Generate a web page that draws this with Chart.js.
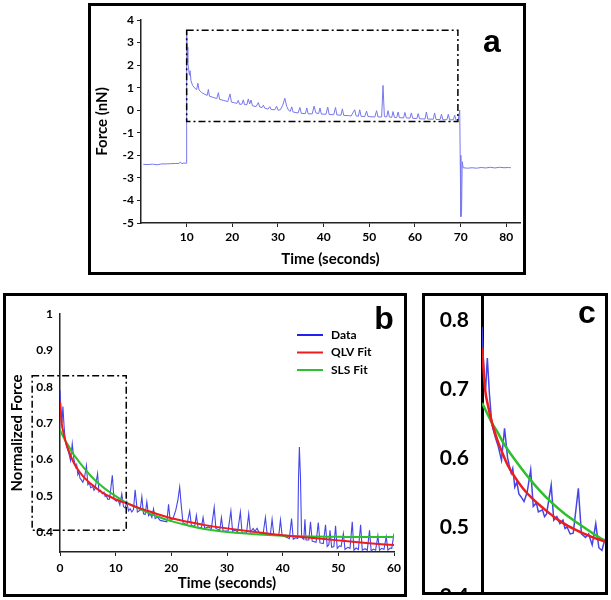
<!DOCTYPE html>
<html><head><meta charset="utf-8">
<script src="https://cdn.jsdelivr.net/npm/chart.js@4/dist/chart.umd.min.js"></script>
<style>
html,body{margin:0;padding:0;background:#fff;}
body{width:611px;height:600px;position:relative;overflow:hidden;}
.box{position:absolute;border:3px solid #000;box-sizing:border-box;overflow:hidden;background:#fff;}
.box canvas{position:absolute;}
.tag{position:absolute;font:bold 32px "Liberation Sans", Arial, sans-serif;line-height:32px;color:#000;transform:translateX(-50%);}
</style></head><body>
<div class="box" style="left:88px;top:3px;width:438px;height:272px;">
  <canvas id="cA" width="432" height="266" style="left:0;top:0;"></canvas>
</div>
<div class="box" style="left:3px;top:293px;width:404px;height:304px;">
  <canvas id="cB" width="398" height="298" style="left:0;top:0;"></canvas>
</div>
<div class="box" style="left:422px;top:293px;width:186px;height:302px;">
  <canvas id="cC" width="180" height="330" style="left:0;top:-10px;"></canvas>
</div>
<div class="tag" style="left:492px;top:25px;">a</div>
<div class="tag" style="left:384px;top:302px;">b</div>
<div class="tag" style="left:587px;top:296px;">c</div>
<script>
// ---------- Panel a: raw force trace ----------
const timeA = [0.5,1.5,2.5,3.5,4.5,5.5,6.5,7.5,8.3,8.6,8.9,9.4,9.9,
 10.0,10.1,10.25,10.45,10.6,10.75,10.95,11.3,11.8,12.2,12.45,12.7,13.3,14.0,14.5,14.75,15.0,15.8,16.6,16.95,17.2,18.0,19.0,19.5,19.8,
 20.5,21.0,21.3,21.6,22.1,22.4,22.7,23.2,23.5,23.8,24.1,24.4,25.2,25.7,26.0,26.5,26.8,27.1,27.8,28.2,28.5,29.3,29.7,
 30.0,30.5,31.0,31.5,31.9,32.3,32.7,33.0,33.3,34.4,34.8,35.1,36.0,36.3,36.6,37.5,37.9,38.3,38.9,39.2,39.5,
 40.5,40.9,41.2,42.2,42.6,42.9,43.8,44.1,44.4,45.5,46.0,46.8,47.1,47.6,47.9,48.2,49.0,49.4,49.7,
 51.2,51.6,51.9,52.7,53.0,53.3,53.8,54.1,54.4,54.9,55.2,55.5,56.0,56.3,56.6,57.5,57.8,58.1,58.9,59.2,59.5,
 60.4,60.7,61.0,62.2,62.5,62.8,64.0,64.3,64.6,65.5,65.8,66.1,67.0,67.3,67.6,68.4,68.7,69.0,69.5,69.8,69.9,
 70.05,70.2,70.35,70.55,71.5,72.5,73.5,74.5,75.5,76.5,77.5,78.5,79.5,80.5,81.0];
const forceA = [-2.40,-2.41,-2.39,-2.42,-2.38,-2.38,-2.37,-2.36,-2.36,-2.30,-2.37,-2.34,-2.35,
 3.50,2.80,2.10,1.80,1.55,1.75,1.30,1.10,0.97,0.92,1.20,0.90,0.78,0.70,0.66,0.92,0.62,0.57,0.52,0.78,0.48,0.44,0.38,0.72,0.36,
 0.33,0.30,0.44,0.26,0.27,0.46,0.24,0.25,0.50,0.28,0.45,0.20,0.16,0.34,0.14,0.12,0.22,0.09,0.05,0.16,0.03,0.02,0.18,
 0.00,0.02,0.20,0.53,0.18,0.00,-0.05,0.15,-0.08,-0.12,0.12,-0.14,-0.15,0.10,-0.16,-0.16,0.18,-0.12,-0.15,0.10,-0.17,
 -0.18,0.14,-0.19,-0.20,0.12,-0.21,-0.22,0.06,-0.23,-0.24,-0.26,0.02,-0.25,-0.27,0.02,-0.27,-0.28,-0.04,-0.28,
 -0.30,-0.02,-0.30,-0.30,1.10,-0.28,-0.30,-0.02,-0.30,-0.32,-0.06,-0.32,-0.33,-0.08,-0.33,-0.34,-0.10,-0.34,-0.35,-0.12,-0.36,
 -0.37,-0.15,-0.38,-0.39,-0.08,-0.39,-0.40,-0.12,-0.41,-0.41,-0.18,-0.42,-0.42,-0.18,-0.43,-0.42,-0.22,-0.44,-0.40,0.00,-2.0,
 -4.72,-4.5,-2.28,-2.55,-2.57,-2.55,-2.57,-2.54,-2.56,-2.53,-2.56,-2.53,-2.55,-2.54,-2.55];
const xTicksA = [10,20,30,40,50,60,70,80];
const xTickLabelsA = ['10','20','30','40','50','60','70','80'];
const yTicksA = [-5,-4,-3,-2,-1,0,1,2,3,4];
const yTickLabelsA = ['-5','-4','-3','-2','-1','0','1','2','3','4'];
const boxA = [10, 69.4, -0.5, 3.55];

// ---------- Panel b / c: normalized relaxation ----------
const timeB = [0.0,0.2,0.35,0.52,0.72,0.95,1.15,1.3,1.6,1.9,2.2,2.5,2.65,2.85,3.0,3.2,3.4,3.6,3.8,4.1,4.4,4.75,5.0,5.3,5.5,5.9,6.1,6.3,6.75,7.0,7.3,7.6,7.9,8.1,8.3,8.6,8.9,9.4,9.7,10.1,10.4,10.75,11.1,11.4,11.7,
 12.0,12.3,12.6,12.9,13.2,13.5,13.9,14.4,14.7,15.0,15.3,15.6,15.9,16.2,16.5,16.8,17.1,17.5,18.0,18.6,19.2,19.5,19.8,
 20.3,20.8,21.2,21.5,21.8,22.1,22.8,23.3,23.6,24.2,24.5,24.8,25.4,25.7,26.0,26.6,27.2,27.7,28.0,28.7,29.0,29.3,
 30.2,30.7,31.0,31.5,31.9,32.4,32.7,33.5,33.9,34.2,34.7,35.0,35.4,35.8,36.5,36.9,37.2,37.8,38.1,38.4,39.3,39.6,39.9,
 40.3,40.8,41.2,41.6,41.9,42.3,42.7,42.85,43.0,43.2,43.4,43.8,44.0,44.2,44.7,45.0,45.3,46.0,46.4,46.7,47.3,47.7,48.0,48.3,48.5,48.8,49.2,49.5,49.8,
 50.2,50.5,50.9,51.2,51.7,52.1,52.5,52.8,53.2,53.6,54.0,54.3,54.8,55.2,55.6,55.9,56.3,56.7,57.1,57.4,57.8,58.2,58.6,58.9,59.3,59.6,60.0];
const dataB = [0.79,0.72,0.70,0.745,0.694,0.65,0.638,0.63,0.616,0.597,0.643,0.60,0.59,0.578,0.585,0.558,0.565,0.548,0.544,0.537,0.55,0.583,0.53,0.535,0.522,0.525,0.515,0.519,0.561,0.51,0.515,0.505,0.51,0.498,0.50,0.49,0.491,0.556,0.49,0.485,0.49,0.474,0.505,0.47,0.466,
 0.483,0.458,0.464,0.455,0.462,0.516,0.455,0.46,0.497,0.45,0.448,0.483,0.445,0.45,0.44,0.464,0.437,0.441,0.432,0.43,0.428,0.476,0.43,
 0.437,0.46,0.49,0.524,0.47,0.425,0.42,0.458,0.418,0.416,0.446,0.412,0.412,0.44,0.41,0.414,0.41,0.468,0.41,0.405,0.44,0.403,
 0.403,0.458,0.402,0.405,0.40,0.455,0.398,0.397,0.45,0.40,0.41,0.402,0.41,0.398,0.396,0.44,0.395,0.394,0.435,0.393,0.39,0.433,0.39,
 0.388,0.385,0.382,0.437,0.38,0.384,0.382,0.55,0.634,0.55,0.385,0.38,0.435,0.378,0.378,0.428,0.375,0.372,0.426,0.37,0.368,0.42,0.36,0.365,0.405,0.358,0.36,0.417,0.355,
 0.362,0.36,0.396,0.352,0.358,0.355,0.428,0.35,0.356,0.352,0.42,0.35,0.354,0.35,0.405,0.348,0.353,0.35,0.39,0.35,0.355,0.352,0.387,0.35,0.356,0.355,0.396];
const timeQLV = [0,0.3,0.6,1.0,1.5,2.0,2.5,3.0,4.0,5.0,6.0,7.0,8.0,9.0,10.0,11.0,12.0,14.0,16.0,18.0,20.0,23.0,26.0,30.0,35.0,40.0,45.0,50.0,55.0,60.0];
const qlvB = [0.76,0.70,0.675,0.65,0.626,0.607,0.59,0.577,0.556,0.54,0.527,0.515,0.505,0.497,0.49,0.484,0.479,0.467,0.457,0.447,0.438,0.428,0.419,0.41,0.40,0.391,0.384,0.377,0.37,0.364];
const timeSLS = [0,0.5,1.0,1.5,2.2,3.0,4.0,4.75,5.5,6.75,8.0,9.4,11.0,12.0,14.0,16.0,18.0,20.0,23.0,26.0,30.0,35.0,40.0,45.0,50.0,55.0,60.0];
const slsB = [0.68,0.665,0.65,0.638,0.619,0.602,0.582,0.568,0.555,0.536,0.52,0.505,0.489,0.48,0.466,0.452,0.44,0.43,0.418,0.408,0.40,0.394,0.39,0.388,0.387,0.386,0.386];
const seriesNames = ['Data','QLV Fit','SLS Fit'];
const xTicksB = [0,10,20,30,40,50,60];
const xTickLabelsB = ['0','10','20','30','40','50','60'];
const yTicksB = [0.4,0.5,0.6,0.7,0.8,0.9,1.0];
const yTickLabelsB = ['0.4','0.5','0.6','0.7','0.8','0.9','1'];
const boxB = [-5, 11.9, 0.405, 0.83];
const yTicksC = [0.4,0.5,0.6,0.7,0.8];
const yTickLabelsC = ['0.4','0.5','0.6','0.7','0.8'];

const pts = (xs, ys) => xs.map((x, i) => ({x, y: ys[i]}));

const zoomBox = {
  id: 'zoomBox',
  afterDatasetsDraw(chart, args, opts) {
    if (!opts || !opts.box) return;
    const [x0, x1, y0, y1] = opts.box;
    const xs = chart.scales.x, ys = chart.scales.y, ctx = chart.ctx;
    const L = xs.getPixelForValue(x0), R = xs.getPixelForValue(x1);
    const T = ys.getPixelForValue(y1), B = ys.getPixelForValue(y0);
    ctx.save();
    ctx.setLineDash([7, 3, 2, 3]);
    ctx.lineWidth = 1.5;
    ctx.strokeStyle = '#000';
    ctx.strokeRect(L, T, R - L, B - T);
    ctx.restore();
  }
};
const lineLegend = {
  id: 'lineLegend',
  afterDatasetsDraw(chart, args, opts) {
    if (!opts || !opts.show) return;
    const ctx = chart.ctx;
    ctx.save();
    ctx.font = 'bold 12px Lato, sans-serif';
    ctx.textBaseline = 'middle';
    chart.data.datasets.forEach((ds, i) => {
      const y = opts.y + i * opts.gap;
      ctx.strokeStyle = ds.legendColor || ds.borderColor;
      ctx.lineWidth = 2;
      ctx.beginPath(); ctx.moveTo(opts.x, y); ctx.lineTo(opts.x + opts.len, y); ctx.stroke();
      ctx.fillStyle = '#000';
      ctx.fillText(ds.label, opts.x + opts.len + 8, y);
    });
    ctx.restore();
  }
};
Chart.register(zoomBox, lineLegend);
Chart.defaults.font.family = 'Lato, sans-serif';
Chart.defaults.color = '#000';

const setTicks = (vals) => (s) => { s.ticks = vals.map(v => ({value: v})); };
const fitY = (w) => (s) => { s.width = w; s.paddingTop = 0; s.paddingBottom = 0; };
const fitX = (h) => (s) => { s.height = h; s.paddingLeft = 0; s.paddingRight = 0; };
const axisBase = (ticks, labels, extra) => Object.assign({
  type: 'linear',
  afterBuildTicks: setTicks(ticks),
  ticks: { autoSkip: false, maxRotation: 0, font: { weight: 'bold', size: 12 }, color: '#000',
           callback: (v, i) => labels[i] },
  grid: { drawOnChartArea: false, drawTicks: true, tickLength: 4, color: '#222' },
  border: { display: true, color: '#222', width: 1.5 }
}, extra);

// Panel a
new Chart(document.getElementById('cA'), {
  type: 'line',
  data: { datasets: [{ label: 'Force', data: pts(timeA, forceA), borderColor: '#7777ee', borderWidth: 1, pointRadius: 0, tension: 0 }] },
  options: {
    responsive: false, animation: false, events: [],
    layout: { padding: { top: 14, right: 3, left: 0, bottom: 0 } },
    plugins: { legend: { display: false }, tooltip: { enabled: false }, zoomBox: { box: boxA }, lineLegend: { show: false } },
    scales: {
      x: axisBase(xTicksA, xTickLabelsA, { min: 0, max: 83,
        afterFit: fitX(49),
        title: { display: true, text: 'Time (seconds)', font: { weight: 'bold', size: 15 }, padding: { top: 0, bottom: 4 } } }),
      y: axisBase(yTicksA, yTickLabelsA, { min: -5, max: 4,
        afterFit: fitY(50),
        title: { display: true, text: 'Force (nN)', font: { weight: 'bold', size: 15 }, padding: { top: 2, bottom: 0 } } })
    }
  }
});

function relaxDatasets(wData, wFit) {
  return [
    { label: seriesNames[0], data: pts(timeB, dataB), borderColor: '#4545e8', legendColor: '#2222ee', borderWidth: wData, pointRadius: 0, tension: 0, order: 2 },
    { label: seriesNames[1], data: pts(timeQLV, qlvB), borderColor: '#ee1c1c', borderWidth: wFit, pointRadius: 0, tension: 0.4, cubicInterpolationMode: 'monotone', order: 0 },
    { label: seriesNames[2], data: pts(timeSLS, slsB), borderColor: '#2cc02c', borderWidth: wFit, pointRadius: 0, tension: 0.4, cubicInterpolationMode: 'monotone', order: 1 }
  ];
}

// Panel b
new Chart(document.getElementById('cB'), {
  type: 'line',
  data: { datasets: relaxDatasets(1.1, 2) },
  options: {
    responsive: false, animation: false, events: [],
    layout: { padding: { top: 18, right: 10, left: 0, bottom: 0 } },
    plugins: { legend: { display: false }, tooltip: { enabled: false }, zoomBox: { box: boxB },
               lineLegend: { show: true, x: 291, y: 39, gap: 17.5, len: 26 } },
    scales: {
      x: axisBase(xTicksB, xTickLabelsB, { min: 0, max: 60,
        afterFit: fitX(42),
        ticks: { autoSkip: false, maxRotation: 0, padding: 5, font: { weight: 'bold', size: 12 }, color: '#000', callback: (v, i) => xTickLabelsB[i] },
        title: { display: true, text: 'Time (seconds)', font: { weight: 'bold', size: 15 }, padding: { top: 0, bottom: 2 } } }),
      y: axisBase(yTicksB, yTickLabelsB, { min: 0.345, max: 1.0,
        afterFit: fitY(54),
        grid: { drawOnChartArea: false, drawTicks: false, color: '#222' },
        ticks: { autoSkip: false, padding: 7, font: { weight: 'bold', size: 12 }, color: '#000', callback: (v, i) => yTickLabelsB[i] },
        title: { display: true, text: 'Normalized Force', font: { weight: 'bold', size: 15 }, padding: { top: 2, bottom: 0 } } })
    }
  }
});

// Panel c (zoom of the boxed region of b)
new Chart(document.getElementById('cC'), {
  type: 'line',
  data: { datasets: relaxDatasets(1.5, 2.5) },
  options: {
    responsive: false, animation: false, events: [],
    layout: { padding: { top: 10, right: 0, left: 0, bottom: 20 } },
    plugins: { legend: { display: false }, tooltip: { enabled: false }, zoomBox: { box: null }, lineLegend: { show: false } },
    scales: {
      x: { type: 'linear', min: 0, max: 12, display: false },
      y: axisBase(yTicksC, yTickLabelsC, { min: 0.4, max: 0.835,
        afterFit: fitY(57),
        grid: { drawOnChartArea: false, drawTicks: false },
        border: { display: true, color: '#000', width: 3 },
        ticks: { autoSkip: false, padding: 13, font: { weight: 'bold', size: 21 }, color: '#000', callback: (v, i) => yTickLabelsC[i] } })
    }
  }
});
</script>
</body></html>
